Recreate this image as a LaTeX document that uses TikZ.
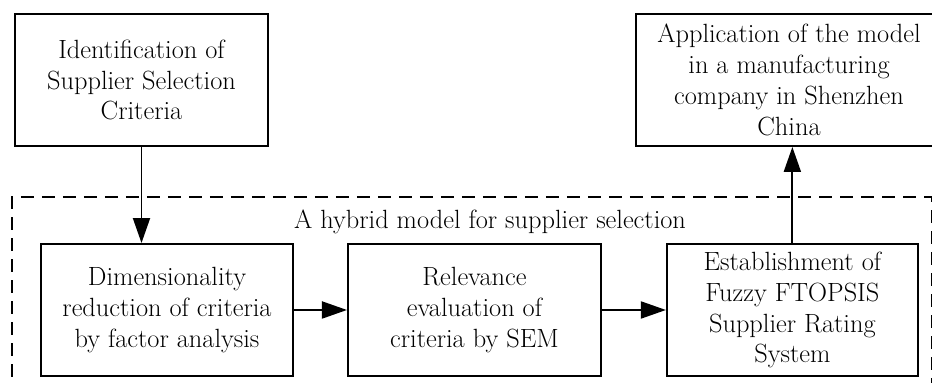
\documentclass[tikz,border=0pt]{standalone}
\usetikzlibrary{arrows.meta,positioning}

\tikzset{
  stagebox/.style={draw, line width=1.1pt, minimum width=5.06cm, minimum height=2.64cm,
    align=center, inner sep=2pt},
  flow/.style={-{Triangle[length=0.5cm,width=0.34cm]}, line width=1.1pt},
  modelframe/.style={draw, line width=0.9pt, dash pattern=on 0.26cm off 0.16cm},
}

\begin{document}
\begin{tikzpicture}[font=\fontsize{15}{17.6}\selectfont]
  \useasboundingbox (0,0) rectangle (18.64,7.66);
  % frame of the hybrid model
  \draw[modelframe] (0.24,-0.3) rectangle (18.63,3.72);
  \node (hybrid) at (9.8,3.22) {A hybrid model for supplier selection};
  % top row
  \node[stagebox] (ident) at (2.83,6.06) {Identification of\\Supplier Selection\\Criteria};
  \node[stagebox, minimum width=6.12cm] (app) at (15.78,6.06)
    {Application of the model\\in a manufacturing\\company in Shenzhen\\China};
  % stages inside the frame
  \node[stagebox, minimum width=5.04cm] (dim) at (3.34,1.46)
    {Dimensionality\\reduction of criteria\\by factor analysis};
  \node[stagebox, minimum width=5.06cm, right=1.06cm of dim] (rel)
    {Relevance\\evaluation of\\criteria by SEM};
  \node[stagebox, minimum width=5.02cm, right=1.28cm of rel] (est)
    {Establishment of\\Fuzzy FTOPSIS\\Supplier Rating\\System};
  % connectors
  \draw[flow] (ident.south) -- (ident.south |- dim.north);
  \draw[flow] (dim) -- (rel);
  \draw[flow] (rel) -- (est);
  \draw[flow] (est.north) -- (est.north |- app.south);
\end{tikzpicture}
\end{document}
